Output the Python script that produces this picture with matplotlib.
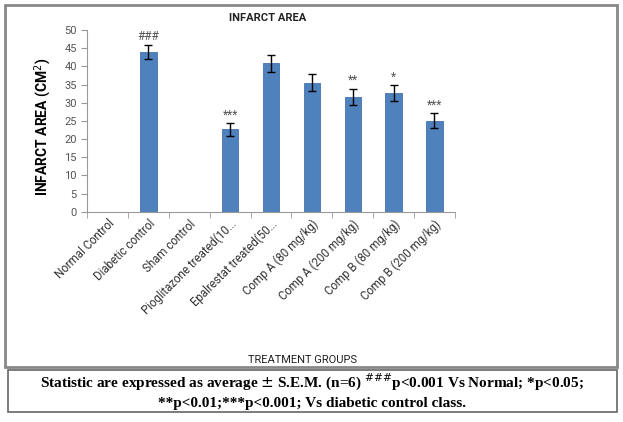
import numpy as np
import matplotlib.pyplot as plt
from matplotlib.patches import Rectangle

groups = ['Normal Control', 'Diabetic control', 'Sham control',
          'Pioglitazone treated(10...', 'Epalrestat treated(50...',
          'Comp A (80 mg/kg)', 'Comp A (200 mg/kg)', 'Comp B (80 mg/kg)',
          'Comp B (200 mg/kg)']
area = [0, 44.0, 0, 22.7, 40.8, 35.5, 31.6, 32.7, 25.1]
sem = [0, 2.0, 0, 1.8, 2.3, 2.3, 2.3, 2.2, 2.1]
marks = ['', '###', '', '***', '', '', '**', '*', '***']

sans = ['Roboto', 'DejaVu Sans']

fig = plt.figure(figsize=(6.23, 4.22), dpi=100)
ax = fig.add_axes([0.14, 0.498, 0.59, 0.431])

x = np.arange(len(groups))
has = [a > 0 for a in area]
xb = x[has]
ab = np.array(area)[has]
sb = np.array(sem)[has]
ax.bar(xb, ab, width=0.4, color='#4f81bd', edgecolor='#4473ad', linewidth=0.6, zorder=2)
ax.errorbar(xb, ab, yerr=sb, fmt='none', ecolor='black', elinewidth=1, capsize=3, capthick=1, zorder=3)
for i in range(len(groups)):
    if marks[i]:
        ax.text(x[i], area[i] + sem[i] + 0.4, marks[i], ha='center', va='bottom',
                fontsize=8.5, color='#555555', family=sans)

ax.set_xlim(-0.5, len(groups) - 0.5)
ax.set_ylim(0, 50)
ax.set_yticks(np.arange(0, 51, 5))
ax.set_xticks(x)
ax.set_xticklabels(groups, rotation=45, ha='right', rotation_mode='anchor', fontsize=8.3,
                   color='#333333', family=sans)
ax.tick_params(axis='x', length=0, pad=4)
ax.set_xticks(np.arange(-0.5, len(groups), 1), minor=True)
ax.tick_params(axis='x', which='minor', length=4, color='#999999')
ax.tick_params(axis='y', labelsize=8, labelcolor='#555555', color='#999999', length=4)
for lb in ax.get_yticklabels():
    lb.set_family(sans)
for s in ['top', 'right']:
    ax.spines[s].set_visible(False)
for s in ['left', 'bottom']:
    ax.spines[s].set_color('#999999')

fig.text(0.43, 0.958, 'INFARCT AREA', ha='center', va='center', fontsize=8, fontweight='bold',
         family=sans, color='#222222')
fig.text(0.069, 0.70, 'INFARCT AREA (CM$^2$)', ha='center', va='center', rotation=90,
         fontsize=10, fontweight='bold', family=sans)
fig.text(0.485, 0.147, 'TREATMENT GROUPS', ha='center', va='center', fontsize=8, color='#222222',
         family=sans)

fig.patches.append(Rectangle((5 / 623, 1 - 367 / 422), 612 / 623, 362 / 422, transform=fig.transFigure,
                             fill=False, edgecolor='#888888', linewidth=2))
fig.patches.append(Rectangle((8 / 623, 1 - 412 / 422), 609 / 623, 42 / 422, transform=fig.transFigure,
                             fill=False, edgecolor='#666666', linewidth=1.2))

fig.text(0.5, 0.093, r'Statistic are expressed as average $\pm$ S.E.M. (n=6) $^{\#\#\#}$p<0.001 Vs Normal; *p<0.05;',
         ha='center', va='center', fontsize=11, family='Liberation Serif', fontweight='bold')
fig.text(0.5, 0.043, '**p<0.01;***p<0.001; Vs diabetic control class.',
         ha='center', va='center', fontsize=11, family='Liberation Serif', fontweight='bold')

fig.savefig('out.png', dpi=100)
